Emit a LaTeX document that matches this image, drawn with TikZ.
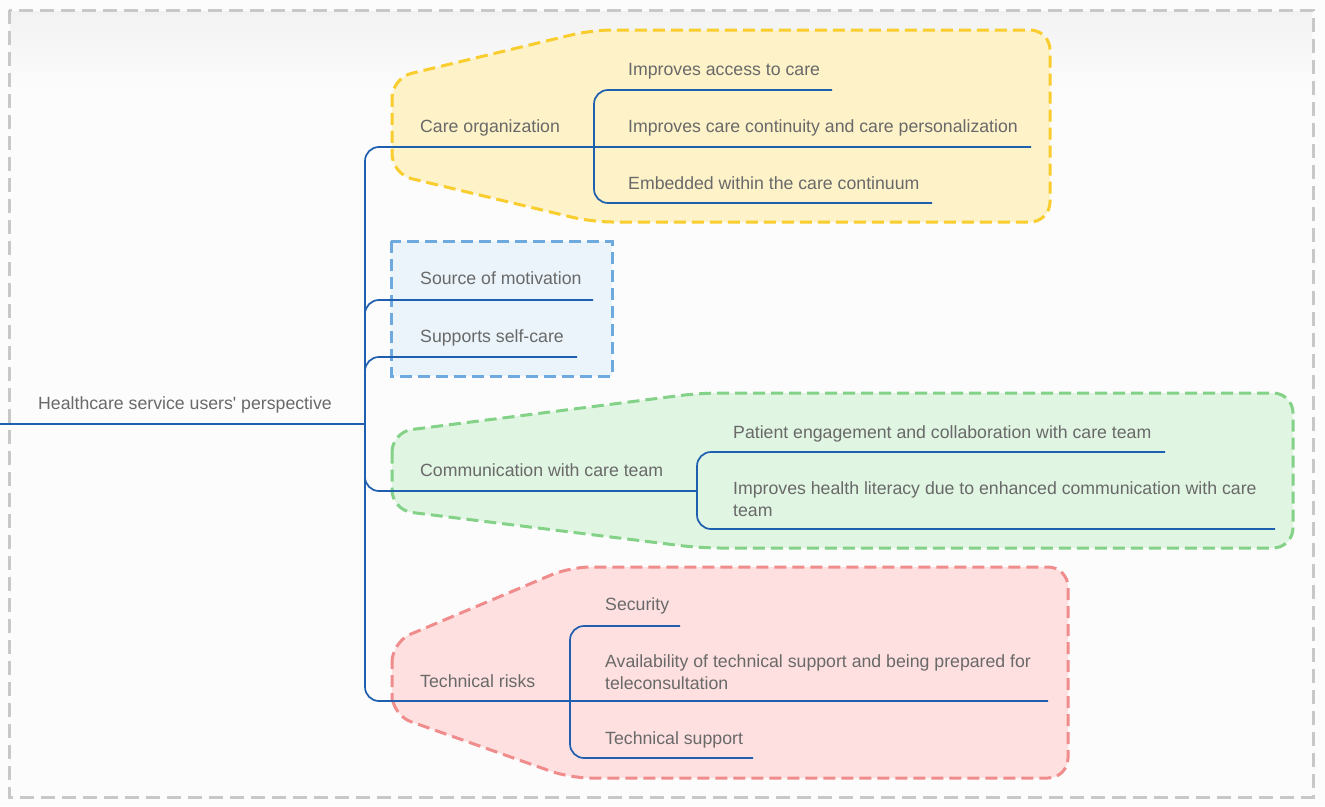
\documentclass[tikz,border=0pt]{standalone}
\usepackage{fontspec}
\setmainfont{Liberation Sans}
\definecolor{bgc}{RGB}{252,252,252}
\definecolor{shd}{RGB}{242,242,242}
\definecolor{frm}{RGB}{200,200,200}
\definecolor{txt}{RGB}{105,105,105}
\definecolor{ln}{RGB}{30,95,175}
\definecolor{ylw}{RGB}{249,205,45}
\definecolor{ylwf}{RGB}{253,242,200}
\definecolor{blu}{RGB}{110,170,222}
\definecolor{bluf}{RGB}{234,244,250}
\definecolor{grn}{RGB}{132,210,136}
\definecolor{grnf}{RGB}{224,245,226}
\definecolor{red1}{RGB}{240,140,140}
\definecolor{redf}{RGB}{254,224,224}
\begin{document}
\begin{tikzpicture}[x=1pt,y=-1pt,
  lbl/.style={anchor=base west, inner sep=0pt, text=txt, font=\fontsize{17.7}{22}\selectfont},
  lbl2/.style={lbl, anchor=north west, align=left},
  branch/.style={draw=ln, line width=1.7pt, rounded corners=14pt},
  grp/.style={line width=3pt, dash pattern=on 12pt off 6pt, rounded corners=20pt},
  frame/.style={draw=frm, line width=3pt, dash pattern=on 14pt off 7pt}]
\useasboundingbox (0,0) rectangle (1325,806);
\fill[bgc] (0,0) rectangle (1325,806);
\shade[top color=shd, bottom color=bgc] (10,11) rectangle (1312,90);
\draw[frame] (9,10) rectangle (1313,797);

% group backgrounds
\draw[grp, draw=ylw, fill=ylwf] (392,126) -- (392,78) -- (592,30) -- (1050,30) -- (1050,222) -- (592,222) -- (392,174) -- cycle;
\draw[line width=3pt, dash pattern=on 12pt off 6pt, draw=blu, fill=bluf] (391,241) rectangle (612,376);
\draw[grp, draw=grn, fill=grnf] (392,470) -- (392,432) -- (700,393) -- (1293,393) -- (1293,548) -- (700,548) -- (392,510) -- cycle;
\draw[grp, draw=red1, fill=redf] (392,680) -- (392,642) -- (570,567) -- (1068,567) -- (1068,778) -- (570,778) -- (392,715) -- cycle;

% root
\node[lbl] (root) at (38,409.5) {Healthcare service users\textquotesingle{} perspective};
\coordinate (rootS) at (0,424);
\coordinate (trunk) at (365,424);
\draw[branch] (rootS) -- (trunk);

% care organization
\node[lbl] (co) at (420,132.5) {Care organization};
\coordinate (coJ) at (594,147);
\node[lbl] (co1) at (628,75.5) {Improves access to care};
\coordinate (co1E) at (832,90);
\node[lbl] (co2) at (628,132.5) {Improves care continuity and care personalization};
\coordinate (co2E) at (1031,147);
\node[lbl] (co3) at (628,189.5) {Embedded within the care continuum};
\coordinate (co3E) at (932,203);
\draw[branch] (trunk) |- (coJ) -- (co2E);
\draw[branch] (coJ) |- (co1E);
\draw[branch] (coJ) |- (co3E);

% motivation / self-care
\node[lbl] (sm) at (420,284.5) {Source of motivation};
\coordinate (smE) at (593,300);
\node[lbl] (sc) at (420,342.5) {Supports self-care};
\coordinate (scE) at (577,357);
\draw[branch] (trunk) |- (smE);
\draw[branch] (trunk) |- (scE);

% communication
\node[lbl] (cm) at (420,476.5) {Communication with care team};
\coordinate (cmJ) at (697,491);
\node[lbl] (cm1) at (733,438.5) {Patient engagement and collaboration with care team};
\coordinate (cm1E) at (1165,452);
\node[lbl2] (cm2) at (733,481.6) {Improves health literacy due to enhanced communication with care\\team};
\coordinate (cm2E) at (1275,529);
\draw[branch] (trunk) |- (cmJ);
\draw[branch] (cmJ) |- (cm1E);
\draw[branch] (cmJ) |- (cm2E);

% technical risks
\node[lbl] (tr) at (420,687.5) {Technical risks};
\coordinate (trJ) at (570,701);
\node[lbl] (tr1) at (605,610.5) {Security};
\coordinate (tr1E) at (680,626);
\node[lbl2] (tr2) at (605,654.5) {Availability of technical support and being prepared for\\teleconsultation};
\coordinate (tr2E) at (1048,701);
\node[lbl] (tr3) at (605,744.5) {Technical support};
\coordinate (tr3E) at (753,758);
\draw[branch] (trunk) |- (trJ) -- (tr2E);
\draw[branch] (trJ) |- (tr1E);
\draw[branch] (trJ) |- (tr3E);
\end{tikzpicture}
\end{document}
